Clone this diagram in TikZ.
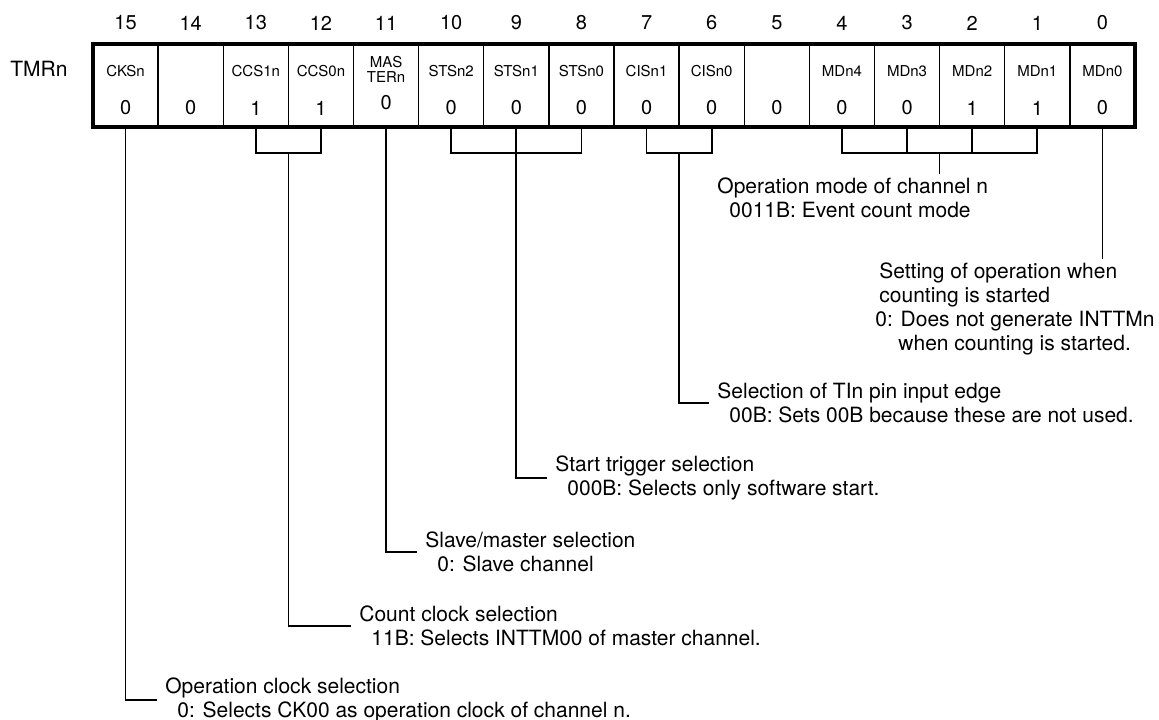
\documentclass[tikz,border=0pt]{standalone}
\usepackage{fontspec}
\setmainfont{TeX Gyre Heros}
\usetikzlibrary{calc}
\tikzset{
    celda/.style={draw, line width=0.65pt, minimum width=32.56pt, minimum height=41.2pt, inner sep=0pt, outer sep=0pt},
    nombre/.style={font=\fontsize{7.5}{7.5}\selectfont, inner sep=0pt},
    numero/.style={font=\fontsize{10}{12}\selectfont, inner sep=0pt},
    guia/.style={line width=0.85pt},
    texto/.style={font=\fontsize{10.5}{12}\selectfont, align=left, inner xsep=4pt, inner ysep=1.5pt},
}

\begin{document}
\begin{tikzpicture}[x=0.5pt, y=-0.5pt]
\useasboundingbox (0,0) rectangle (1159,719);
% registro
\node[font=\fontsize{10.5}{12}\selectfont, anchor=west, inner sep=0pt] (tmr) at (10,69) {TMRn};
\foreach \b/\nm/\v in {15/CKSn/0, 14/{}/0, 13/CCS1n/1, 12/CCS0n/1, 11/{}/{}, 10/STSn2/0, 9/STSn1/0, 8/STSn0/0,
    7/CISn1/0, 6/CISn0/0, 5/{}/0, 4/MDn4/0, 3/MDn3/0, 2/MDn2/1, 1/MDn1/1, 0/MDn0/0} {
    \pgfmathsetmacro{\cx}{93+65.125*(15.5-\b)}
    \node[celda] (c\b) at (\cx,85.5) {};
    \node[numero] (n\b) at (\cx,23) {\b};
    \node[nombre] (l\b) at (\cx,71.5) {\nm};
    \node[numero] (v\b) at (\cx,108) {\v};
}
\node[nombre, align=center] (m11) at ($(c11)+(0,-16)$) {MAS\\TERn};
\node[numero] (w11) at ($(c11)+(0,17.5)$) {0};
\draw[line width=2pt] (c15.north west) rectangle (c0.south east);
% corchetes
\draw[guia] (c13.south) -- ++(0,26) -| (c12.south);
\draw[guia] (c10.south) -- ++(0,26) -| (c8.south);
\draw[guia] (c7.south) -- ++(0,26) -| (c6.south);
\draw[guia] (c4.south) -- ++(0,26) -| (c1.south);
\draw[guia] (c3.south) -- ++(0,26);
\draw[guia] (c2.south) -- ++(0,26);
\coordinate (mccs) at ($(c13.south)!0.5!(c12.south)+(0,26)$);
\coordinate (mcis) at ($(c7.south)!0.5!(c6.south)+(0,26)$);
\coordinate (mmd) at ($(c3.south)!0.5!(c2.south)+(0,26)$);
% textos
\node[texto, anchor=north west] (t4) at (709,174) {Operation mode of channel n\\\hspace*{6pt}0011B: Event count mode};
\node[texto, anchor=north west] (t0) at (867,259) {\hspace*{2pt}Setting of operation when\\\hspace*{2pt}counting is started\\0: Does not generate INTTMn\\\hspace*{11.5pt}when counting is started.};
\node[texto, anchor=west] (t7) at (709,403) {Selection of TIn pin input edge\\\hspace*{6pt}00B: Sets 00B because these are not used.};
\node[texto, anchor=west] (t9) at (547,478) {Start trigger selection\\\hspace*{6pt}000B: Selects only software start.};
\node[texto, anchor=west] (t11) at (417,552) {Slave/master selection\\\hspace*{6pt}0: Slave channel};
\node[texto, anchor=west] (t13) at (351,626) {Count clock selection\\\hspace*{6pt}11B: Selects INTTM00 of master channel.};
\node[texto, anchor=west] (t15) at (157,700) {Operation clock selection\\\hspace*{6pt}0: Selects CK00 as operation clock of channel n.};
% lineas
\draw[guia] (mmd) -- (mmd |- t4.north);
\draw[guia] (c0.south) -- (c0.south |- t0.north);
\draw[guia] (mcis) |- (t7.west);
\draw[guia] (c9.south) |- (t9.west);
\draw[guia] (c11.south) |- (t11.west);
\draw[guia] (mccs) |- (t13.west);
\draw[guia] (c15.south) |- (t15.west);
\end{tikzpicture}
\end{document}
